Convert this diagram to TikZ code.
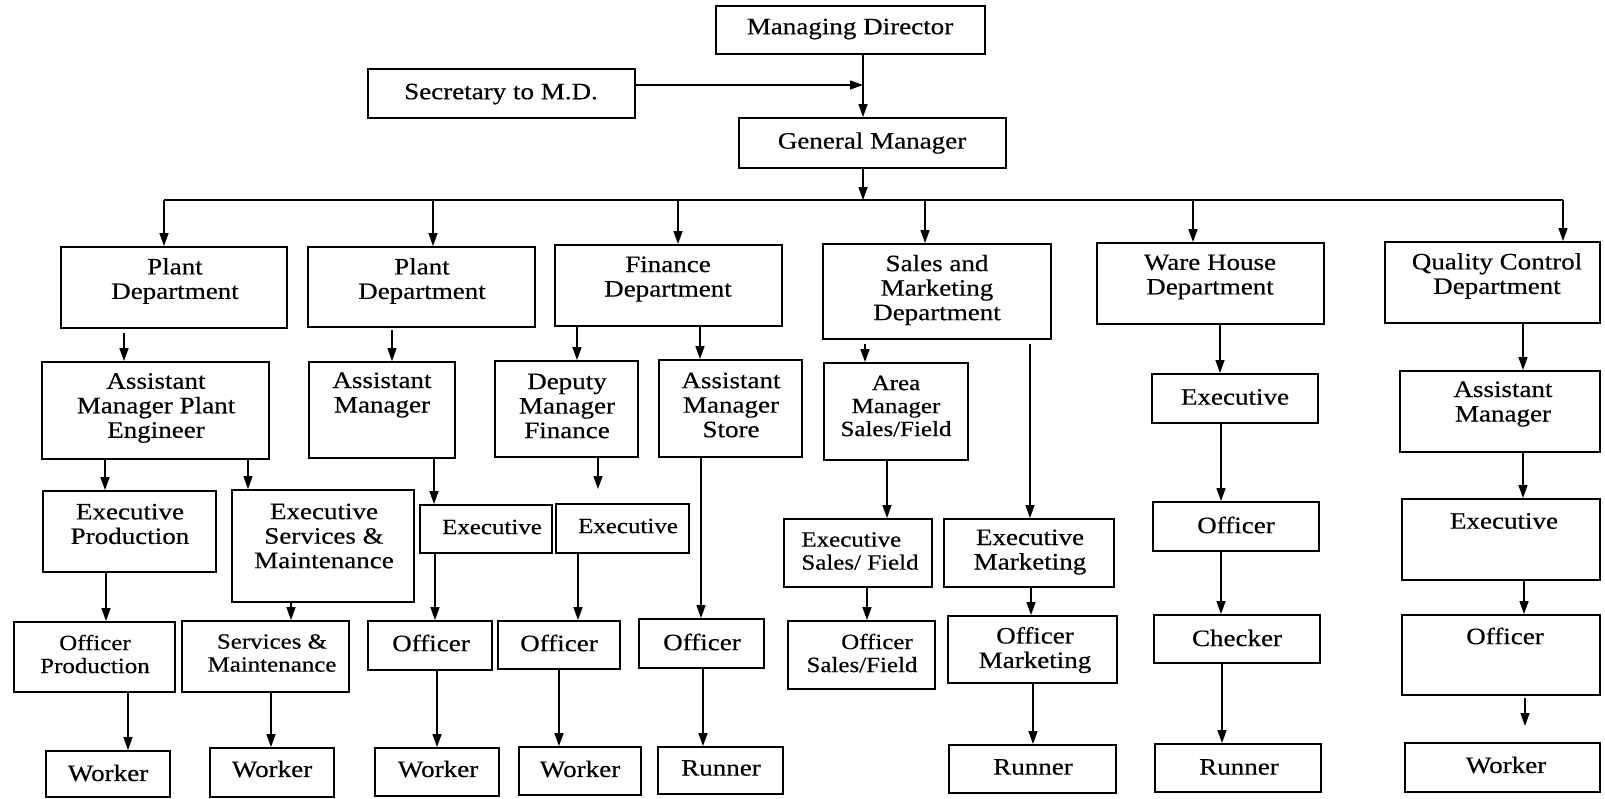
\documentclass[tikz,border=0pt]{standalone}
\usepackage{fontspec}
\setmainfont{Liberation Serif}[FakeStretch=1.15, FakeBold=0.4]
\usetikzlibrary{arrows.meta,fit}

\tikzset{
  orgbox/.style={draw, line width=1.9pt, inner sep=0pt, rectangle},
  orgtxt/.style={align=center, inner sep=0pt, font=\fontsize{23.5}{24.5}\selectfont},
  orgsmall/.style={orgtxt, font=\fontsize{21.7}{23}\selectfont},
  link/.style={line width=1.4pt, -{Triangle[length=13pt,width=9pt]}},
  busline/.style={line width=1.6pt},
}

% box: name, x1, y1, x2, y2, text x, text y, text style, text
\newcommand\orgunit[9]{%
  \node[orgbox, fit={(#2,#3) (#4,#5)}] (#1) {};
  \node[#8] (#1-t) at (#6,#7) {#9};}

\begin{document}
\begin{tikzpicture}[x=1pt, y=-1pt]
\useasboundingbox[fill=white] (0,0) rectangle (1605,798);

% top level
\orgunit{md}{716}{6}{985}{54}{850}{29}{orgtxt}{Managing Director}
\orgunit{sec}{368}{69}{635}{118}{501}{94}{orgtxt}{Secretary to M.D.}
\orgunit{gm}{739}{118}{1006}{168}{872}{143}{orgtxt}{General Manager}

% departments
\orgunit{pd1}{61}{247}{287}{328}{175}{281}{orgtxt}{Plant\\Department}
\orgunit{pd2}{308}{247}{535}{327}{422}{281}{orgtxt}{Plant\\Department}
\orgunit{fd}{555}{245}{782}{326}{668}{279}{orgtxt}{Finance\\Department}
\orgunit{sm}{823}{244}{1051}{339}{937}{290}{orgtxt}{Sales and\\Marketing\\Department}
\orgunit{wh}{1097}{243}{1324}{324}{1210}{277}{orgtxt}{Ware House\\Department}
\orgunit{qc}{1385}{242}{1600}{323}{1497}{276}{orgtxt}{Quality Control\\Department}

% managers
\orgunit{ampe}{42}{362}{269}{459}{156}{408}{orgtxt}{Assistant\\Manager Plant\\Engineer}
\orgunit{am2}{309}{362}{455}{458}{382}{395}{orgtxt}{Assistant\\Manager}
\orgunit{dmf}{495}{361}{638}{457}{567}{406}{orgtxt}{Deputy\\Manager\\Finance}
\orgunit{ams}{659}{360}{802}{457}{731}{405}{orgtxt}{Assistant\\Manager\\Store}
\orgunit{amsf}{824}{363}{968}{460}{896}{406}{orgsmall}{Area\\Manager\\Sales/Field}
\orgunit{whe}{1152}{374}{1318}{423}{1235}{397}{orgtxt}{Executive}
\orgunit{qcam}{1400}{371}{1600}{452}{1503}{404}{orgtxt}{Assistant\\Manager}

% executives
\orgunit{ep}{43}{491}{216}{572}{130}{524}{orgtxt}{Executive\\Production}
\orgunit{esm}{232}{490}{414}{602}{324}{536}{orgtxt}{Executive\\Services \&\\Maintenance}
\orgunit{ex2}{420}{505}{552}{553}{492}{527}{orgsmall}{Executive}
\orgunit{exf}{556}{504}{689}{553}{628}{526}{orgsmall}{Executive}
\orgunit{esf}{784}{519}{932}{587}{860}{551}{orgsmall, align=left}{Executive\\Sales/ Field}
\orgunit{emk}{944}{519}{1114}{587}{1030}{552}{orgtxt}{Executive\\Marketing}
\orgunit{who}{1153}{502}{1319}{551}{1236}{525}{orgtxt}{Officer}
\orgunit{qce}{1402}{499}{1600}{580}{1504}{521}{orgtxt}{Executive}

% officers
\orgunit{op}{14}{622}{175}{692}{95}{654}{orgsmall}{Officer\\Production}
\orgunit{sm2}{182}{621}{349}{692}{272}{653}{orgsmall}{Services \&\\Maintenance}
\orgunit{o2}{368}{621}{492}{670}{431}{643}{orgtxt}{Officer}
\orgunit{of}{498}{621}{620}{669}{559}{643}{orgtxt}{Officer}
\orgunit{os}{639}{619}{764}{668}{702}{642}{orgtxt}{Officer}
\orgunit{osf}{788}{621}{935}{689}{862}{653}{orgsmall}{\hspace*{30pt}Officer\\Sales/Field}
\orgunit{omk}{948}{616}{1117}{683}{1035}{650}{orgtxt}{Officer\\Marketing}
\orgunit{chk}{1154}{615}{1320}{663}{1237}{638}{orgtxt}{Checker}
\orgunit{qco}{1402}{615}{1600}{695}{1505}{636}{orgtxt}{Officer}

% bottom level
\orgunit{w1}{46}{751}{170}{797}{108}{773}{orgtxt}{Worker}
\orgunit{w2}{210}{748}{334}{797}{272}{769}{orgtxt}{Worker}
\orgunit{w3}{375}{748}{499}{796}{438}{769}{orgtxt}{Worker}
\orgunit{w4}{519}{747}{641}{795}{580}{769}{orgtxt}{Worker}
\orgunit{r1}{658}{747}{783}{794}{721}{768}{orgtxt}{Runner}
\orgunit{r2}{949}{745}{1116}{793}{1033}{767}{orgtxt}{Runner}
\orgunit{r3}{1155}{744}{1321}{792}{1239}{767}{orgtxt}{Runner}
\orgunit{w5}{1405}{743}{1600}{792}{1506}{765}{orgtxt}{Worker}

% top connectors
\coordinate (secj) at (863,85);
\draw[link] (md.south -| 863,0) -- (gm.north -| 863,0);
\draw[link] (sec.east |- secj) -- (secj);

% distribution bus
\coordinate (busc) at (863,200);
\coordinate (busl) at (164,200);
\coordinate (busr) at (1563,200);
\coordinate (d2) at (433,200);
\coordinate (d3) at (678,200);
\coordinate (d4) at (925,200);
\coordinate (d5) at (1193,200);
\draw[link] (gm.south -| busc) -- (busc);
\draw[busline] (busl) -- (busr);
\draw[link] (busl) -- (pd1.north -| busl);
\draw[link] (d2) -- (pd2.north -| d2);
\draw[link] (d3) -- (fd.north -| d3);
\draw[link] (d4) -- (sm.north -| d4);
\draw[link] (d5) -- (wh.north -| d5);
\draw[link] (busr) -- (qc.north -| busr);

% departments to managers
\draw[link, shorten <=4pt] (pd1.south -| 124,0) -- (ampe.north -| 124,0);
\draw[link, shorten <=2pt] (pd2.south -| 392,0) -- (am2.north -| 392,0);
\draw[link] (fd.south -| 577,0) -- (dmf.north -| 577,0);
\draw[link] (fd.south -| 700,0) -- (ams.north -| 700,0);
\draw[link, shorten <=4pt] (sm.south -| 865,0) -- (amsf.north -| 865,0);
\draw[link, shorten <=4pt] (sm.south -| 1030,0) -- (emk.north -| 1030,0);
\draw[link] (wh.south -| 1220,0) -- (whe.north -| 1220,0);
\draw[link] (qc.south -| 1523,0) -- (qcam.north -| 1523,0);

% managers to executives
\coordinate (dmfend) at (598,489);
\draw[link] (ampe.south -| 105,0) -- (ep.north -| 105,0);
\draw[link] (ampe.south -| 248,0) -- (esm.north -| 248,0);
\draw[link] (am2.south -| 434,0) -- (ex2.north -| 434,0);
\draw[link] (dmf.south -| dmfend) -- (dmfend);
\draw[link] (ams.south -| 701,0) -- (os.north -| 701,0);
\draw[link] (amsf.south -| 887,0) -- (esf.north -| 887,0);
\draw[link] (whe.south -| 1221,0) -- (who.north -| 1221,0);
\draw[link] (qcam.south -| 1523,0) -- (qce.north -| 1523,0);

% executives to officers
\draw[link] (ep.south -| 106,0) -- (op.north -| 106,0);
\draw[link] (esm.south -| 291,0) -- (sm2.north -| 291,0);
\draw[link] (ex2.south -| 435,0) -- (o2.north -| 435,0);
\draw[link] (exf.south -| 578,0) -- (of.north -| 578,0);
\draw[link] (esf.south -| 867,0) -- (osf.north -| 867,0);
\draw[link] (emk.south -| 1031,0) -- (omk.north -| 1031,0);
\draw[link] (who.south -| 1221,0) -- (chk.north -| 1221,0);
\draw[link] (qce.south -| 1524,0) -- (qco.north -| 1524,0);

% officers to workers and runners
\coordinate (qcoend) at (1525,726);
\draw[link] (op.south -| 128,0) -- (w1.north -| 128,0);
\draw[link] (sm2.south -| 271,0) -- (w2.north -| 271,0);
\draw[link] (o2.south -| 437,0) -- (w3.north -| 437,0);
\draw[link] (of.south -| 559,0) -- (w4.north -| 559,0);
\draw[link] (os.south -| 703,0) -- (r1.north -| 703,0);
\draw[link] (omk.south -| 1033,0) -- (r2.north -| 1033,0);
\draw[link] (chk.south -| 1222,0) -- (r3.north -| 1222,0);
\draw[link, shorten <=2pt] (qco.south -| qcoend) -- (qcoend);
\end{tikzpicture}
\end{document}
